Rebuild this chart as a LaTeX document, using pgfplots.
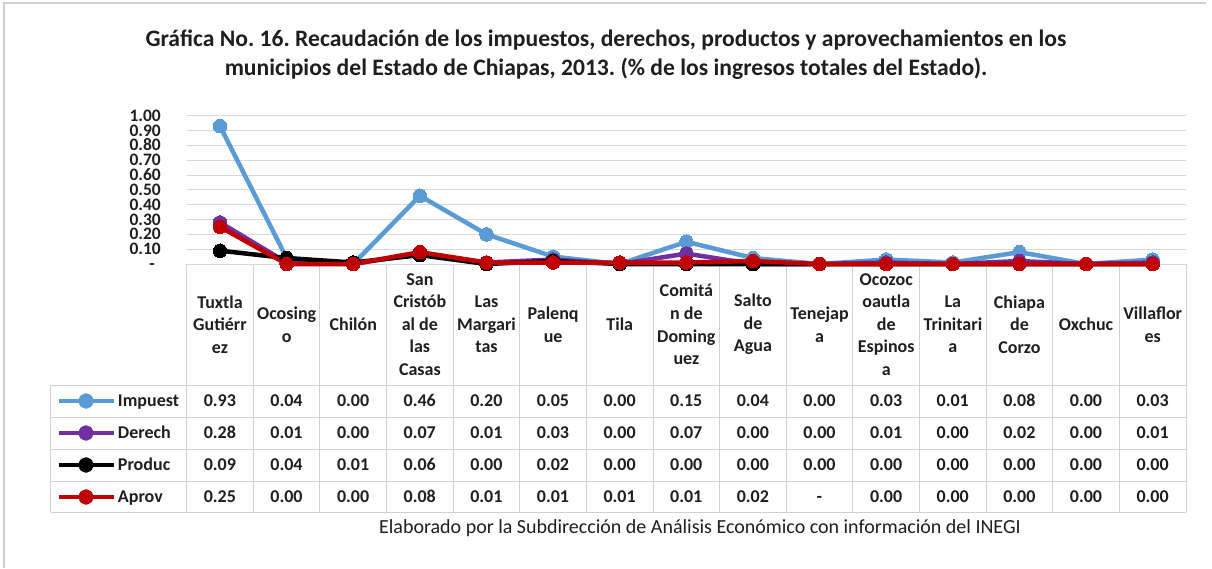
\documentclass[border=0pt]{standalone}
\usepackage{pgfplots}
\usepackage{pgfplotstable}
\pgfplotsset{compat=1.18}
\usepackage{fontspec}
\setmainfont{Carlito}
\frenchspacing
\definecolor{cImp}{HTML}{5B9BD5}
\definecolor{cDer}{HTML}{7030A0}
\definecolor{cPro}{HTML}{000000}
\definecolor{cApr}{HTML}{C00000}
\definecolor{gridc}{HTML}{D9D9D9}
\definecolor{tabc}{HTML}{D0D0D0}
\definecolor{framec}{HTML}{CFCFCF}

\pgfplotstableread{
x imp der pro apr
0  0.93 0.28 0.09 0.25
1  0.04 0.01 0.04 0.00
2  0.00 0.00 0.01 0.00
3  0.46 0.07 0.06 0.08
4  0.20 0.01 0.00 0.01
5  0.05 0.03 0.02 0.01
6  0.00 0.00 0.00 0.01
7  0.15 0.07 0.00 0.01
8  0.04 0.00 0.00 0.02
9  0.00 0.00 0.00 0.00
10 0.03 0.01 0.00 0.00
11 0.01 0.00 0.00 0.00
12 0.08 0.02 0.00 0.00
13 0.00 0.00 0.00 0.00
14 0.03 0.01 0.00 0.00
}\datatable

\def\rowA{0.93,0.04,0.00,0.46,0.20,0.05,0.00,0.15,0.04,0.00,0.03,0.01,0.08,0.00,0.03}
\def\rowB{0.28,0.01,0.00,0.07,0.01,0.03,0.00,0.07,0.00,0.00,0.01,0.00,0.02,0.00,0.01}
\def\rowC{0.09,0.04,0.01,0.06,0.00,0.02,0.00,0.00,0.00,0.00,0.00,0.00,0.00,0.00,0.00}
\def\rowD{0.25,0.00,0.00,0.08,0.01,0.01,0.01,0.01,0.02,-,0.00,0.00,0.00,0.00,0.00}

\begin{document}
\begin{tikzpicture}
\path[use as bounding box, fill=white] (0pt,0pt) rectangle (1212pt,568pt);
\draw[line width=2pt, framec] (4pt,0pt) -- (4pt,565pt) -- (1206pt,565pt);

% title
\node[font=\fontsize{23.6}{28}\selectfont\bfseries, anchor=base, text=black!88] at (606pt,521pt)
 {Gráfica No. 16. Recaudación de los impuestos, derechos, productos y aprovechamientos en los};
\node[font=\fontsize{23.6}{28}\selectfont\bfseries, anchor=base, text=black!88] at (606pt,492.5pt)
 {municipios del Estado de Chiapas, 2013. (\% de los ingresos totales del Estado).};

% table grid
\begin{scope}[tabc, line width=1pt]
\foreach \k in {0,...,15} {\draw ({186.7pt+66.62pt*\k},304pt) -- ({186.7pt+66.62pt*\k},56pt);}
\foreach \yy in {183,151,119,87,56} {\draw (50.7pt,\yy pt) -- (1186pt,\yy pt);}
\draw (50.7pt,183pt) -- (50.7pt,56pt);
\end{scope}

% table values
\begin{scope}[font=\fontsize{18}{18}\selectfont\bfseries, text=black!88]
\foreach \v [count=\i from 0] in \rowA {\node[anchor=base, inner sep=0pt] at ({219.9pt+66.62pt*\i},161.2pt) {\v};}
\foreach \v [count=\i from 0] in \rowB {\node[anchor=base, inner sep=0pt] at ({219.9pt+66.62pt*\i},129.2pt) {\v};}
\foreach \v [count=\i from 0] in \rowC {\node[anchor=base, inner sep=0pt] at ({219.9pt+66.62pt*\i},97.2pt) {\v};}
\foreach \v [count=\i from 0] in \rowD {\node[anchor=base, inner sep=0pt] at ({219.9pt+66.62pt*\i},65.7pt) {\v};}
\end{scope}

% footer
\node[font=\fontsize{20}{20}\selectfont, anchor=base, text=black!88] at (700pt,35pt)
 {Elaborado por la Subdirección de Análisis Económico con información del INEGI};

\begin{axis}[
  at={(186.7pt,304pt)}, anchor=south west,
  scale only axis, width=999.3pt, height=148.3pt,
  xmin=-0.5, xmax=14.5, ymin=0, ymax=1,
  clip=false,
  axis line style={draw=none},
  tick style={draw=none},
  ymajorgrids, grid style={gridc, line width=1pt},
  ytick={0,0.1,0.2,0.3,0.4,0.5,0.6,0.7,0.8,0.9,1.0},
  yticklabels={-\kern6pt,0.10,0.20,0.30,0.40,0.50,0.60,0.70,0.80,0.90,1.00},
  yticklabel style={font=\fontsize{17.5}{17.5}\selectfont\bfseries, text=black!88, inner sep=0pt, text height=11pt, text depth=0pt, anchor=east, xshift=-25.7pt},
  xtick={0,...,14},
  xticklabels={{Tuxtla\\Gutiérr\\ez},{Ocosing\\o},{Chilón},{San\\Cristób\\al de\\las\\Casas},{Las\\Margari\\tas},{Palenq\\ue},{Tila},{Comitá\\n de\\Doming\\uez},{Salto\\de\\Agua},{Tenejap\\a},{Ocozoc\\oautla\\de\\Espinos\\a},{La\\Trinitari\\a},{Chiapa\\de\\Corzo},{Oxchuc},{Villaflor\\es}},
  xticklabel style={font=\fontsize{18}{22.6}\selectfont\bfseries, text=black!88, align=center, anchor=center, inner sep=0pt, yshift=-60.5pt},
  legend style={at={(axis description cs:-0.1298,-0.8159)}, anchor=north west, draw=none, fill=none,
     inner sep=0pt, outer sep=0pt, row sep=0pt, column sep=2pt,
     nodes={inner sep=0pt, text height=21pt, text depth=11pt},
     cells={anchor=west},
     font=\fontsize{18}{18}\selectfont\bfseries, text=black!88},
  legend image code/.code={
     \draw[#1, mark=none, line width=4pt] (0pt,0pt) -- (55pt,0pt);
     \fill[#1] (27pt,0pt) circle (5.5pt);
  },
  every axis plot/.append style={line width=4.5pt, line join=round, mark=*, mark size=6.8pt},
]
\addplot[cImp, mark options={fill=cImp, draw=cImp, line width=0pt}] table[x=x,y=imp]{\datatable};
\addlegendentry{Impuest}
\addplot[cDer, mark options={fill=cDer, draw=cDer, line width=0pt}] table[x=x,y=der]{\datatable};
\addlegendentry{Derech}
\addplot[cPro, mark options={fill=cPro, draw=cPro, line width=0pt}] table[x=x,y=pro]{\datatable};
\addlegendentry{Produc}
\addplot[cApr, mark options={fill=cApr, draw=cApr, line width=0pt}] table[x=x,y=apr]{\datatable};
\addlegendentry{Aprov}
\end{axis}
\end{tikzpicture}
\end{document}
